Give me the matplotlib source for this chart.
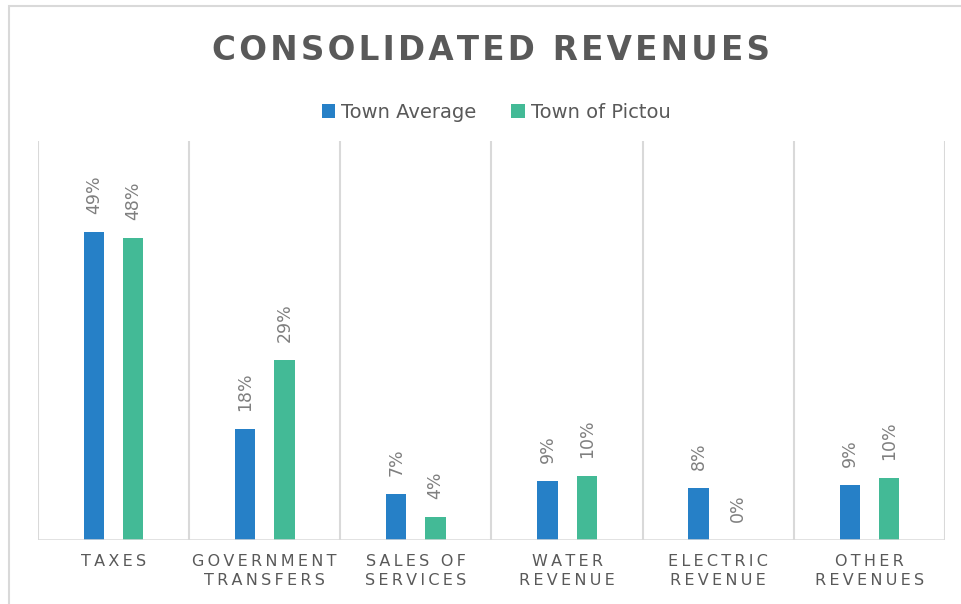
import matplotlib
matplotlib.use("Agg")
import matplotlib.pyplot as plt
from matplotlib.patches import Rectangle, Patch
import numpy as np

categories = ["TAXES", "GOVERNMENT\nTRANSFERS", "SALES OF\nSERVICES",
              "WATER\nREVENUE", "ELECTRIC\nREVENUE", "OTHER\nREVENUES"]
town_average = [49.0, 17.6, 7.3, 9.4, 8.2, 8.7]
town_of_pictou = [48.0, 28.7, 3.7, 10.2, 0.0, 9.8]
series_names = ["Town Average", "Town of Pictou"]

BLUE = "#2680C7"
GREEN = "#43BA96"
GRID = "#D9D9D9"
TEXT = "#595959"
LABEL = "#7F7F7F"

def spaced(s, sep="\u2009"):
    return "\n".join(sep.join(list(line)) for line in s.split("\n"))

fig = plt.figure(figsize=(9.61, 6.04), dpi=100)
fig.patch.set_facecolor("white")

# outer chart frame
fig.patches.append(Rectangle((8.5 / 961, -0.05), 1.2, (604 - 5.5) / 604 + 0.05,
                             transform=fig.transFigure, fill=False,
                             edgecolor=GRID, linewidth=1.5))

ax = fig.add_axes([38 / 961, 64 / 604, (945 - 38) / 961, (540 - 141) / 604])
x = np.arange(len(categories))
w = 0.135
off = 0.13
b1 = ax.bar(x - off, town_average, width=w, color=BLUE, zorder=3)
b2 = ax.bar(x + off, town_of_pictou, width=w, color=GREEN, zorder=3)

for bars, vals in ((b1, town_average), (b2, town_of_pictou)):
    for rect, v in zip(bars, vals):
        ax.annotate(f"{v:.0f}%", (rect.get_x() + rect.get_width() / 2, v),
                    xytext=(0, 13), textcoords="offset points",
                    rotation=90, ha="center", va="bottom",
                    fontsize=12.5, color=LABEL)

ax.set_xlim(-0.5, len(categories) - 0.5)
ax.set_ylim(0, 63.5)
for xv in np.arange(-0.5, len(categories), 1.0):
    ax.axvline(xv, color=GRID, linewidth=1.5, zorder=1)
ax.axhline(0, color=GRID, linewidth=1.8, zorder=4)

for s in ax.spines.values():
    s.set_visible(False)
ax.set_yticks([])
ax.set_xticks(x)
ax.set_xticklabels([spaced(c, "\u2009") for c in categories],
                   fontsize=11.5, color=TEXT, linespacing=1.35)
ax.tick_params(axis="x", length=0, pad=10)

fig.text(491 / 961, 1 - 51 / 604, spaced("CONSOLIDATED REVENUES", "\u200a"),
         ha="center", va="center", fontsize=23.5, fontweight="bold", color=TEXT)

handles = [Patch(facecolor=BLUE), Patch(facecolor=GREEN)]
fig.legend(handles, series_names, loc="center", bbox_to_anchor=(496 / 961, 1 - 112 / 604),
           ncol=2, frameon=False, fontsize=14, labelcolor=TEXT,
           handlelength=0.7, handleheight=0.7, handletextpad=0.3, columnspacing=1.8)

fig.savefig("out.png", dpi=100, facecolor="white")
